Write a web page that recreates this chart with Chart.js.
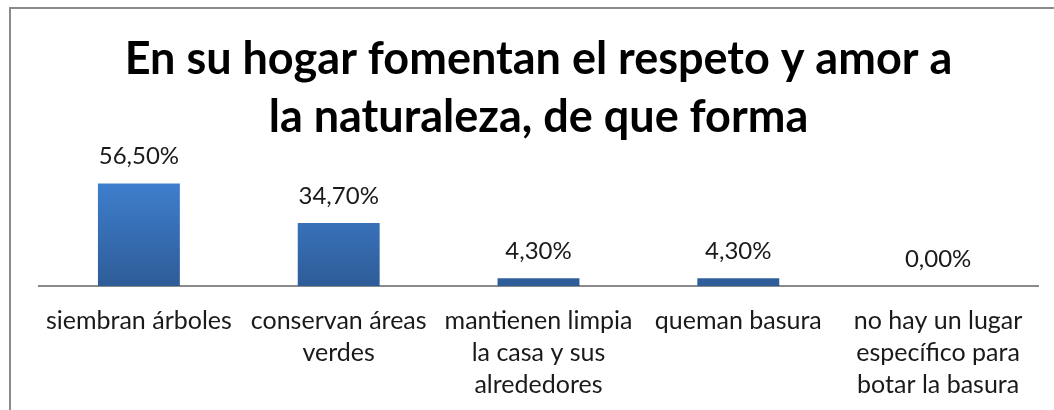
<!DOCTYPE html>
<html>
<head>
<meta charset="utf-8">
<script src="https://cdn.jsdelivr.net/npm/chart.js@4"></script>
<style>
  html, body { margin: 0; padding: 0; background: #fff; }
  #wrap { position: relative; width: 1054px; height: 410px; }
  #frame { position: absolute; left: 9px; top: 7px; right: -2px; bottom: -2px; border-left: 2px solid #8a8a8a; border-top: 2px solid #8a8a8a; }
  canvas { position: absolute; left: 0; top: 0; }
</style>
</head>
<body>
<div id="wrap">
  <div id="frame"></div>
  <canvas id="chart" width="1054" height="410"></canvas>
</div>
<script>
// data
const categories = [
  ['siembran árboles'],
  ['conservan áreas', 'verdes'],
  ['mantienen limpia', 'la casa y sus', 'alrededores'],
  ['queman basura'],
  ['no hay un lugar', 'específico para', 'botar la basura']
];
const values = [56.5, 34.7, 4.3, 4.3, 0.0];
const titleLines = ['En su hogar fomentan el respeto y amor a', 'la naturaleza, de que forma'];

const FONT = 'Lato, "Open Sans", sans-serif';

// value labels above bars, e.g. 56,50%
const valueLabels = {
  id: 'valueLabels',
  afterDatasetsDraw(chart) {
    const { ctx } = chart;
    const meta = chart.getDatasetMeta(0);
    ctx.save();
    ctx.font = '24px ' + FONT;
    ctx.fillStyle = '#1a1a1a';
    ctx.textAlign = 'center';
    ctx.textBaseline = 'middle';
    meta.data.forEach((bar, i) => {
      const txt = values[i].toFixed(2).replace('.', ',') + '%';
      ctx.fillText(txt, bar.x, bar.y - 27);
    });
    ctx.restore();
  }
};

function barGradient(context) {
  const chart = context.chart;
  const area = chart.chartArea;
  if (!area) return '#3a74c0';
  const g = chart.ctx.createLinearGradient(0, area.top, 0, area.bottom);
  g.addColorStop(0, '#3f80d0');
  g.addColorStop(1, '#2e5c98');
  return g;
}

new Chart(document.getElementById('chart'), {
  type: 'bar',
  data: {
    labels: categories,
    datasets: [{
      data: values,
      backgroundColor: barGradient,
      borderWidth: 0,
      barPercentage: 0.41,
      categoryPercentage: 1
    }]
  },
  options: {
    responsive: false,
    animation: false,
    layout: { padding: { left: 39, right: 16, top: 0, bottom: 0 } },
    plugins: {
      legend: { display: false },
      tooltip: { enabled: false },
      title: {
        display: true,
        text: titleLines,
        color: '#000',
        font: { family: FONT, size: 45, weight: 'bold', lineHeight: 1.29 },
        padding: { top: 30, bottom: 31 }
      }
    },
    scales: {
      x: {
        grid: { display: false, drawTicks: false },
        border: { display: true, color: '#8a8a8a', width: 2 },
        ticks: {
          color: '#1a1a1a',
          font: { family: FONT, size: 25, lineHeight: 1.28 },
          padding: 19,
          maxRotation: 0,
          autoSkip: false
        },
        afterFit(scale) { scale.height = 124; }
      },
      y: {
        display: false,
        min: 0,
        max: 60
      }
    }
  },
  plugins: [valueLabels]
});
</script>
</body>
</html>
